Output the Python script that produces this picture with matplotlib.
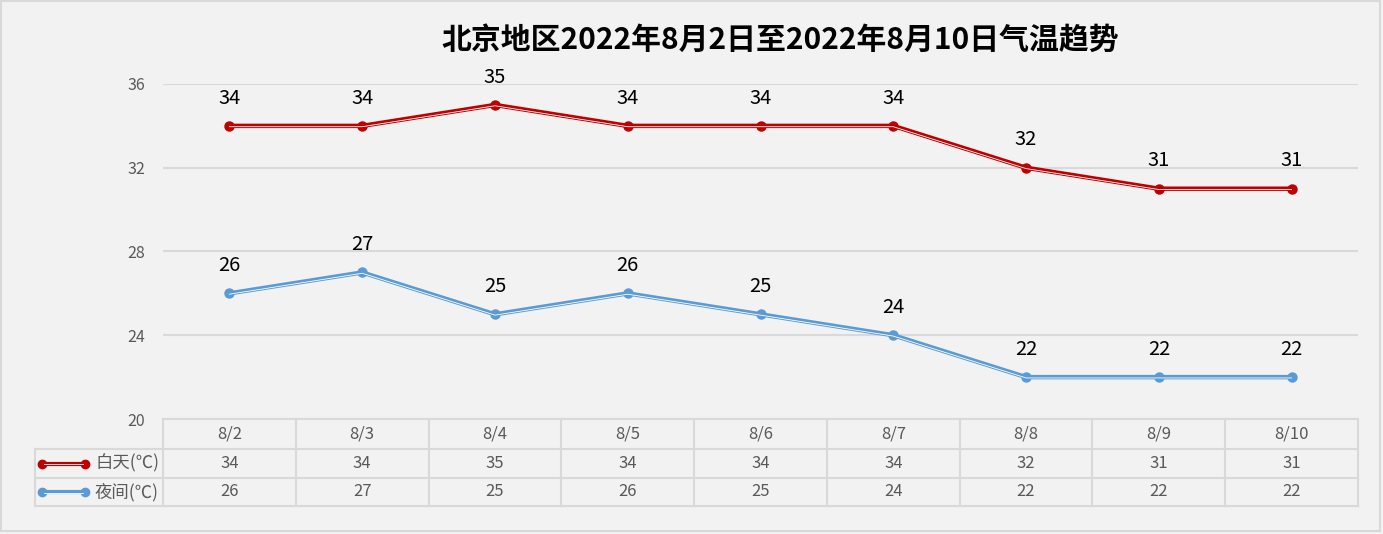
import matplotlib.pyplot as plt
from matplotlib.lines import Line2D
import matplotlib.transforms as mtransforms

plt.rcParams['font.family'] = ['Noto Sans CJK SC', 'DejaVu Sans']

# 数据
dates = ['8/2', '8/3', '8/4', '8/5', '8/6', '8/7', '8/8', '8/9', '8/10']
day_temp = [34, 34, 35, 34, 34, 34, 32, 31, 31]
night_temp = [26, 27, 25, 26, 25, 24, 22, 22, 22]
series_names = ['白天(℃)', '夜间(℃)']
colors = ['#c00000', '#5b9bd5']

W, H = 1383, 534
bg = '#f2f2f2'
grid_c = '#d9d9d9'
txt_c = '#595959'

fig = plt.figure(figsize=(W / 100, H / 100), dpi=100, facecolor=bg)


def fx(px):
    return px / W


def fy(py):
    return 1 - py / H


# 绘图区
x0, x1, ytop, ybot = 163, 1358, 84, 419
ax = fig.add_axes([fx(x0), fy(ybot), fx(x1) - fx(x0), fy(ytop) - fy(ybot)])
ax.set_facecolor(bg)
ax.set_xlim(0, len(dates))
ax.set_ylim(20, 36)
ax.set_yticks([20, 24, 28, 32, 36])
ax.set_xticks([])
ax.tick_params(axis='y', length=0, pad=13, labelsize=11.5, labelcolor=txt_c)
for s in ax.spines.values():
    s.set_visible(False)
ax.grid(axis='y', color=grid_c, lw=1.5)
ax.set_axisbelow(True)

xs = [i + 0.5 for i in range(len(dates))]
white_off = mtransforms.offset_copy(ax.transData, fig=fig, x=0, y=-0.6, units='points')
for vals, c in zip([day_temp, night_temp], colors):
    ax.plot(xs, vals, color=c, lw=3.2, marker='o', ms=6.5, solid_capstyle='round', zorder=3)
    ax.plot(xs, vals, color='white', lw=0.6, transform=white_off, zorder=4)
    for x, v in zip(xs, vals):
        ax.annotate(str(v), (x, v), xytext=(0, 12.5), textcoords='offset points',
                    ha='center', va='bottom', fontsize=14.5, color='black')

fig.text(fx(780), fy(40), '北京地区2022年8月2日至2022年8月10日气温趋势',
         ha='center', va='center', fontsize=21.5, fontweight='bold', color='black')

# 数据表
rows_y = [419, 449, 478, 506]
cell_w = (x1 - x0) / len(dates)
def hline(xa, xb, y):
    fig.add_artist(Line2D([fx(xa), fx(xb)], [fy(y), fy(y)], color=grid_c, lw=1.5))


def vline(x, ya, yb):
    fig.add_artist(Line2D([fx(x), fx(x)], [fy(ya), fy(yb)], color=grid_c, lw=1.5))


hline(x0, x1, rows_y[0])
for y in rows_y[1:]:
    hline(35, x1, y)
vline(35, rows_y[1], rows_y[3])
for i in range(len(dates) + 1):
    vline(x0 + i * cell_w, rows_y[0], rows_y[3])

for i, d in enumerate(dates):
    cx = x0 + (i + 0.5) * cell_w
    fig.text(fx(cx), fy((rows_y[0] + rows_y[1]) / 2), d, ha='center', va='center',
             fontsize=12, color=txt_c)
    for r, vals in enumerate([day_temp, night_temp]):
        fig.text(fx(cx), fy((rows_y[r + 1] + rows_y[r + 2]) / 2), str(vals[i]),
                 ha='center', va='center', fontsize=12, color=txt_c)

# 图例
for r, (name, c) in enumerate(zip(series_names, colors)):
    yc = (rows_y[r + 1] + rows_y[r + 2]) / 2
    fig.add_artist(Line2D([fx(42), fx(85)], [fy(yc), fy(yc)], color=c, lw=3,
                          marker='o', ms=6, markevery=[0, 1]))
    fig.add_artist(Line2D([fx(44), fx(83)], [fy(yc + 0.8), fy(yc + 0.8)], color='white', lw=0.6))
    fig.text(fx(159), fy(yc), name, ha='right', va='center', fontsize=12.5, color=txt_c)

# 外框
fig.add_artist(plt.Rectangle((fx(1), fy(531)), fx(1380) - fx(1), fy(1) - fy(531),
                             fill=False, edgecolor='#d9d9d9', lw=1.5))

fig.savefig('out.png', dpi=100, facecolor=bg)
